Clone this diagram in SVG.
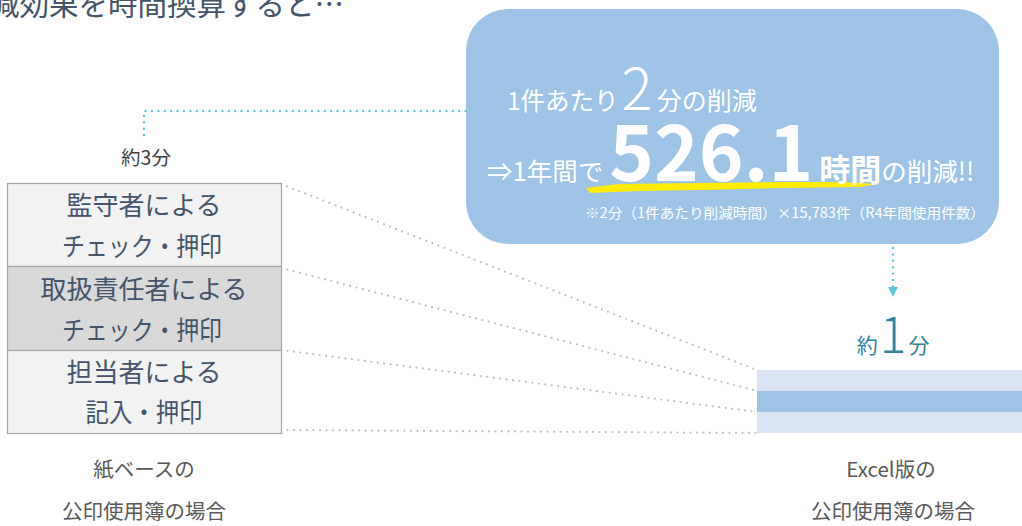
<svg xmlns="http://www.w3.org/2000/svg" width="1022" height="526" viewBox="0 0 1022 526">
<style>
text{font-family:"Noto Sans CJK JP","Noto Sans",sans-serif}
.box{stroke:#A6A6A6;stroke-width:1.2}
.bt{font-size:26px;fill:#44546A;text-anchor:middle}
.lbl{font-size:20.5px;fill:#595959;text-anchor:middle}
.w{fill:#FFFFFF}
.gd{fill:none;stroke:#BFBFBF;stroke-width:2.2;stroke-dasharray:0 6.5;stroke-linecap:round}
.cd{fill:none;stroke:#5BC5DC;stroke-width:2.4;stroke-dasharray:0 6.4;stroke-linecap:round}
</style>
<defs>
<marker id="arr" viewBox="0 0 10 10" refX="2" refY="5" markerWidth="10" markerHeight="10" markerUnits="userSpaceOnUse" orient="auto">
<path d="M0,0 L10,5 L0,10 Z" fill="#5BC5DC"/>
</marker>
</defs>
<rect width="1022" height="526" fill="#FFFFFF"/>
<text x="-10" y="15" style="font-size:29.5px;fill:#44546A">減効果を時間換算すると…</text>

<g id="summary">
<rect x="466" y="9" width="533" height="235" rx="42" fill="#9DC3E6"/>
<path d="M586,188 L618,184 L700,183 L790,182 L840,182 L878,184 L860,187 L780,188 L700,190 L640,191 L590,193 Z" fill="#FFEC00"/>
<text x="507" y="110" class="w"><tspan style="font-size:24.5px">1件あたり</tspan><tspan dx="3" style="font-size:58px;font-weight:300">2</tspan><tspan dx="4" style="font-size:25px">分の削減</tspan></text>
<text x="487" y="181" class="w"><tspan style="font-size:25.5px">⇒1年間で</tspan><tspan dx="6" style="font-size:76px;font-weight:bold">526.1</tspan><tspan dx="6" style="font-size:31px;font-weight:bold">時間</tspan><tspan style="font-size:25.5px">の削減!!</tspan></text>
<text x="585" y="218" class="w" style="font-size:14px" textLength="400" lengthAdjust="spacingAndGlyphs">※2分（1件あたり削減時間）×15,783件（R4年間使用件数）</text>
</g>

<g id="connectors">
<path class="cd" d="M144,135 L144,111 L466,111"/>
<path class="cd" d="M893,248 L893,289" marker-end="url(#arr)"/>
<path class="gd" d="M281,184 L757,370"/>
<path class="gd" d="M281,268 L757,391"/>
<path class="gd" d="M281,350 L757,412"/>
<path class="gd" d="M281,430 L757,433"/>
</g>

<g id="paper">
<text x="146" y="165" style="font-size:19.5px;fill:#404040;text-anchor:middle">約3分</text>
<rect class="box" x="7.5" y="183.5" width="274" height="83" fill="#F2F2F2"/>
<rect class="box" x="7.5" y="266.5" width="274" height="84" fill="#D9D9D9"/>
<rect class="box" x="7.5" y="350.5" width="274" height="83" fill="#F2F2F2"/>
<text x="144" y="215" class="bt">監守者による</text>
<text x="142" y="256" class="bt" textLength="160" lengthAdjust="spacingAndGlyphs">チェック・押印</text>
<text x="144" y="299" class="bt">取扱責任者による</text>
<text x="142" y="340" class="bt" textLength="160" lengthAdjust="spacingAndGlyphs">チェック・押印</text>
<text x="144" y="382" class="bt">担当者による</text>
<text x="144" y="422" class="bt" textLength="117" lengthAdjust="spacingAndGlyphs">記入・押印</text>
<text x="144" y="477" class="lbl">紙ベースの</text>
<text x="144" y="519" class="lbl">公印使用簿の場合</text>
</g>

<g id="excel">
<text x="893" y="353" style="fill:#31849B;text-anchor:middle"><tspan style="font-size:21px">約</tspan><tspan dx="2" style="font-size:50px;font-weight:300">1</tspan><tspan dx="2" style="font-size:21px">分</tspan></text>
<rect x="757" y="370" width="265" height="21" fill="#DAE3F3"/>
<rect x="757" y="391" width="265" height="21" fill="#9DC3E6"/>
<rect x="757" y="412" width="265" height="21" fill="#DAE3F3"/>
<text x="891" y="477" class="lbl">Excel版の</text>
<text x="893" y="519" class="lbl">公印使用簿の場合</text>
</g>
</svg>
